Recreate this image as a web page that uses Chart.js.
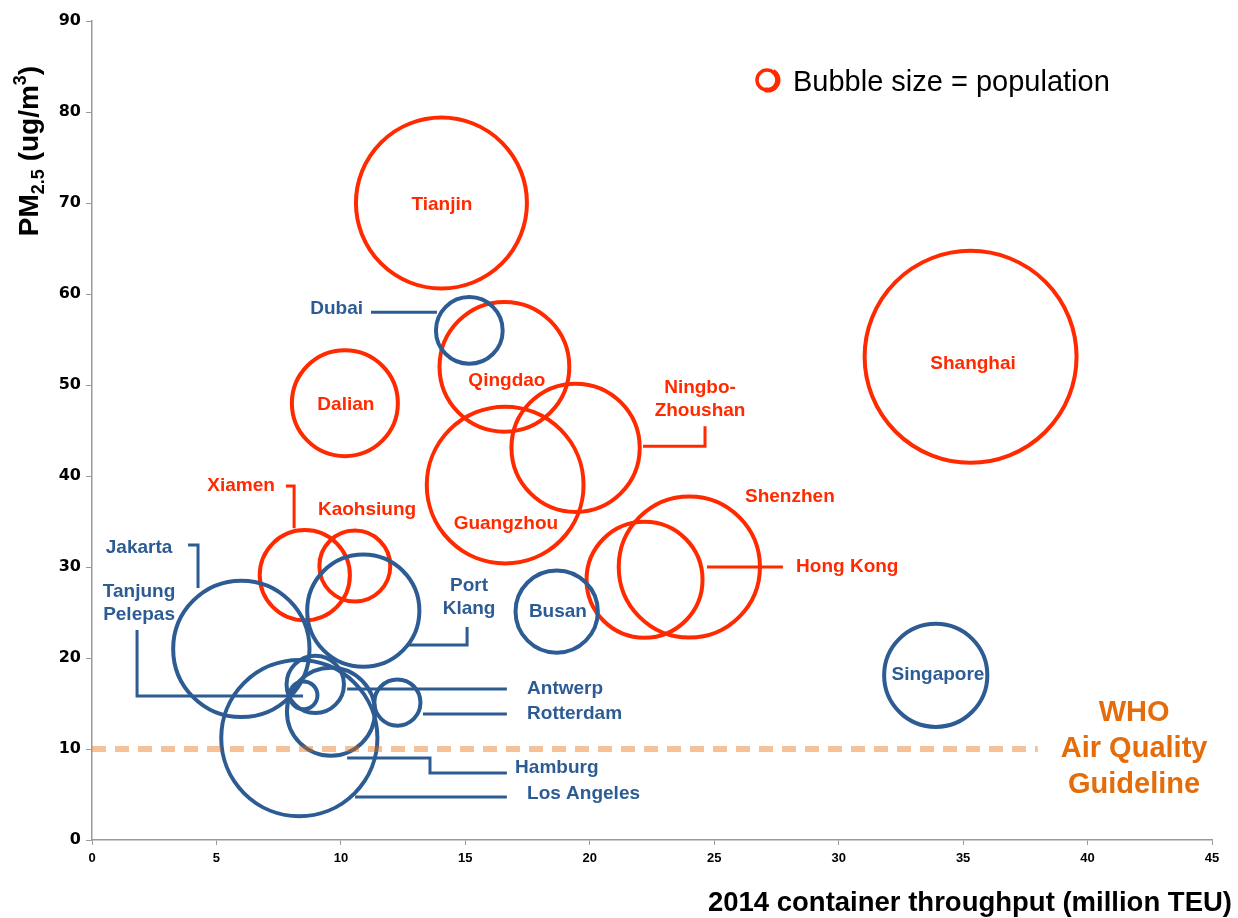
<!DOCTYPE html>
<html>
<head>
<meta charset="utf-8">
<title>PM2.5 vs container throughput</title>
<script src="https://cdn.jsdelivr.net/npm/chart.js@4.4.1/dist/chart.umd.min.js"></script>
<style>
  html, body { margin: 0; padding: 0; background: #fff; overflow: hidden; }
  .chart_box { position: relative; width: 1238px; height: 918px; }
</style>
</head>
<body>
<div class="chart_box"><canvas id="portsChart"></canvas></div>
<script>
// Datos: puertos de China (rojo)
const chinaCities = ['Tianjin', 'Shanghai', 'Qingdao', 'Dalian', 'Ningbo-Zhoushan', 'Guangzhou', 'Kaohsiung', 'Xiamen', 'Shenzhen', 'Hong Kong'];
const chinaTeu = [14.04, 35.3, 16.57, 10.16, 19.43, 16.6, 10.56, 8.55, 24.0, 22.2];
const chinaPm25 = [70.0, 53.1, 52.0, 48.0, 43.1, 39.0, 30.1, 29.1, 30.0, 28.6];
const chinaPopulation = [15.1, 23.2, 8.7, 5.8, 8.5, 12.7, 2.6, 4.2, 10.3, 6.95];

// Datos: otros puertos (azul)
const otherCities = ['Dubai', 'Busan', 'Singapore', 'Jakarta', 'Port Klang', 'Tanjung Pelepas', 'Antwerp', 'Rotterdam', 'Hamburg', 'Los Angeles'];
const otherTeu = [15.16, 18.67, 33.9, 6.0, 10.9, 8.5, 8.97, 12.27, 9.6, 8.33];
const otherPm25 = [56.0, 25.1, 18.1, 21.0, 25.2, 15.9, 17.1, 15.1, 14.1, 11.2];
const otherPopulation = [2.3, 3.5, 5.5, 9.6, 6.5, 0.4, 1.7, 1.1, 4.0, 12.6];

// Ejes y linea guia de la OMS
const xMax = 45;
const xStep = 5;
const yMax = 90;
const yStep = 10;
const whoGuideline = 10;
const whoLineEnd = 38;

document.addEventListener('DOMContentLoaded', function() {
    const RED = '#FF2A00';
    const BLUE = '#2C5C93';
    const ORANGE = '#E46C0A';
    const LABEL_FONT = 'bold 19px "Liberation Sans", Arial, sans-serif';
    const PX_PER_SQRT_MILLION = 22;

    // Puntos de burbuja, radio segun la poblacion
    function buildPoints(teu, pm, pop) {
        return teu.map((x, i) => ({ x: x, y: pm[i], r: PX_PER_SQRT_MILLION * Math.sqrt(pop[i]) }));
    }

    // Etiquetas de ciudades (coordenadas en unidades de los ejes)
    const cityLabels = [
        { text: ['Tianjin'], color: RED, at: [14.06, 69.8], align: 'center' },
        { text: ['Shanghai'], color: RED, at: [35.4, 52.3], align: 'center' },
        { text: ['Dalian'], color: RED, at: [10.2, 47.8], align: 'center' },
        { text: ['Qingdao'], color: RED, at: [16.67, 50.5], align: 'center' },
        { text: ['Guangzhou'], color: RED, at: [16.63, 34.7], align: 'center' },
        { text: ['Kaohsiung'], color: RED, at: [11.05, 36.25], align: 'center' },
        { text: ['Shenzhen'], color: RED, at: [28.04, 37.68], align: 'center' },
        { text: ['Xiamen'], color: RED, at: [5.99, 38.89], align: 'center',
          line: [[7.79, 38.89], [8.12, 38.89], [8.12, 34.27]] },
        { text: ['Ningbo-', 'Zhoushan'], color: RED, at: [24.43, 49.65], align: 'center',
          line: [[22.14, 43.28], [24.63, 43.28], [24.63, 45.48]] },
        { text: ['Hong Kong'], color: RED, at: [28.29, 29.99], align: 'left',
          line: [[24.71, 29.99], [27.76, 29.99]] },
        { text: ['Busan'], color: BLUE, at: [18.72, 25.05], align: 'center' },
        { text: ['Singapore'], color: BLUE, at: [33.99, 18.13], align: 'center' },
        { text: ['Dubai'], color: BLUE, at: [10.89, 58.33], align: 'right',
          line: [[11.21, 58.0], [13.86, 58.0]] },
        { text: ['Jakarta'], color: BLUE, at: [1.89, 32.08], align: 'center',
          line: [[3.86, 32.41], [4.26, 32.41], [4.26, 27.68]] },
        { text: ['Tanjung', 'Pelepas'], color: BLUE, at: [1.89, 27.24], align: 'center',
          line: [[1.81, 23.07], [1.81, 15.82], [8.48, 15.82]] },
        { text: ['Port', 'Klang'], color: BLUE, at: [15.15, 27.9], align: 'center',
          line: [[15.07, 23.4], [15.07, 21.42], [12.7, 21.42]] },
        { text: ['Antwerp'], color: BLUE, at: [17.48, 16.59], align: 'left',
          line: [[10.25, 16.59], [16.67, 16.59]] },
        { text: ['Rotterdam'], color: BLUE, at: [17.48, 13.84], align: 'left',
          line: [[13.3, 13.84], [16.67, 13.84]] },
        { text: ['Hamburg'], color: BLUE, at: [17.0, 7.91], align: 'left',
          line: [[10.25, 9.01], [13.58, 9.01], [13.58, 7.36], [16.67, 7.36]] },
        { text: ['Los Angeles'], color: BLUE, at: [17.48, 5.05], align: 'left',
          line: [[10.57, 4.72], [16.67, 4.72]] }
    ];

    // Plugin para etiquetas, lineas guia, leyenda y titulos de ejes
    const annotationsPlugin = {
        id: 'annotations',
        afterDatasetsDraw(chart) {
            const ctx = chart.ctx;
            const xs = chart.scales.x;
            const ys = chart.scales.y;
            ctx.save();
            cityLabels.forEach(lbl => {
                if (lbl.line) {
                    ctx.beginPath();
                    lbl.line.forEach((p, i) => {
                        const px = xs.getPixelForValue(p[0]);
                        const py = ys.getPixelForValue(p[1]);
                        if (i === 0) ctx.moveTo(px, py); else ctx.lineTo(px, py);
                    });
                    ctx.strokeStyle = lbl.color;
                    ctx.lineWidth = 3;
                    ctx.lineJoin = 'miter';
                    ctx.stroke();
                }
                ctx.fillStyle = lbl.color;
                ctx.font = LABEL_FONT;
                ctx.textAlign = lbl.align;
                ctx.textBaseline = 'middle';
                const x0 = xs.getPixelForValue(lbl.at[0]);
                const y0 = ys.getPixelForValue(lbl.at[1]);
                lbl.text.forEach((t, i) => ctx.fillText(t, x0, y0 + i * 23));
            });

            // Texto de la OMS
            ctx.fillStyle = ORANGE;
            ctx.font = 'bold 29px "Liberation Sans", Arial, sans-serif';
            ctx.textAlign = 'center';
            ctx.textBaseline = 'middle';
            const wx = xs.getPixelForValue(41.87);
            const wy = ys.getPixelForValue(13.95);
            ['WHO', 'Air Quality', 'Guideline'].forEach((t, i) => ctx.fillText(t, wx, wy + i * 36));
            ctx.restore();
        },
        afterDraw(chart) {
            const ctx = chart.ctx;
            const area = chart.chartArea;
            ctx.save();

            // Leyenda
            ctx.beginPath();
            ctx.arc(767, 80, 10, 0, Math.PI * 2);
            ctx.strokeStyle = RED;
            ctx.lineWidth = 3.5;
            ctx.stroke();
            ctx.beginPath();
            ctx.arc(768, 80, 10, -Math.PI / 3, Math.PI * 0.6);
            ctx.lineWidth = 5;
            ctx.stroke();
            ctx.fillStyle = '#000';
            ctx.font = '29px "Liberation Sans", Arial, sans-serif';
            ctx.textAlign = 'left';
            ctx.textBaseline = 'middle';
            ctx.fillText('Bubble size = population', 793, 83);

            // Titulo eje X
            ctx.font = 'bold 27.5px "Liberation Sans", Arial, sans-serif';
            ctx.textAlign = 'right';
            ctx.fillText('2014 container throughput (million TEU)', 1232, 903);

            // Titulo eje Y con subindice y superindice
            const big = 'bold 28px "Liberation Sans", Arial, sans-serif';
            const small = 'bold 18px "Liberation Sans", Arial, sans-serif';
            const parts = [
                { t: 'PM', f: big, dy: 0 },
                { t: '2.5', f: small, dy: 6 },
                { t: ' (ug/m', f: big, dy: 0 },
                { t: '3', f: small, dy: -12 },
                { t: ')', f: big, dy: 0 }
            ];
            let total = 0;
            parts.forEach(p => { ctx.font = p.f; p.w = ctx.measureText(p.t).width; total += p.w; });
            const centerY = (area.top + 130);
            ctx.translate(38, centerY);
            ctx.rotate(-Math.PI / 2);
            ctx.textBaseline = 'alphabetic';
            ctx.textAlign = 'left';
            let u = -total / 2;
            parts.forEach(p => {
                ctx.font = p.f;
                ctx.fillText(p.t, u, p.dy);
                u += p.w;
            });
            ctx.restore();
        }
    };

    const axisColor = '#9a9a9a';

    new Chart(document.getElementById('portsChart').getContext('2d'), {
        type: 'bubble',
        data: {
            datasets: [
                {
                    type: 'line',
                    label: 'WHO',
                    data: [{ x: 0, y: whoGuideline }, { x: whoLineEnd, y: whoGuideline }],
                    borderColor: 'rgba(228,108,10,0.42)',
                    borderWidth: 6,
                    borderDash: [14, 9],
                    borderCapStyle: 'butt',
                    pointRadius: 0,
                    fill: false
                },
                {
                    label: 'Other ports',
                    data: buildPoints(otherTeu, otherPm25, otherPopulation),
                    backgroundColor: 'rgba(0,0,0,0)',
                    borderColor: BLUE,
                    borderWidth: 4
                },
                {
                    label: 'Chinese ports',
                    data: buildPoints(chinaTeu, chinaPm25, chinaPopulation),
                    backgroundColor: 'rgba(0,0,0,0)',
                    borderColor: RED,
                    borderWidth: 4
                }
            ]
        },
        options: {
            responsive: true,
            maintainAspectRatio: false,
            animation: false,
            events: [],
            layout: { autoPadding: false, padding: { left: 0, right: 26, top: 21, bottom: 0 } },
            plugins: {
                legend: { display: false },
                tooltip: { enabled: false }
            },
            scales: {
                x: {
                    type: 'linear',
                    min: 0,
                    max: xMax,
                    ticks: {
                        stepSize: xStep,
                        color: '#000',
                        padding: 6,
                        font: { family: '"Liberation Sans", Arial, sans-serif', size: 13, weight: 'bold' }
                    },
                    grid: { drawOnChartArea: false, drawTicks: true, tickLength: 5, color: axisColor },
                    border: { display: true, color: axisColor, width: 1.5 },
                    afterFit: function(scale) { scale.height = 78; }
                },
                y: {
                    type: 'linear',
                    min: 0,
                    max: yMax,
                    ticks: {
                        stepSize: yStep,
                        color: '#000',
                        padding: 5,
                        font: { family: '"DejaVu Sans", sans-serif', size: 16, weight: 'bold' }
                    },
                    grid: { drawOnChartArea: false, drawTicks: true, tickLength: 6, color: axisColor },
                    border: { display: true, color: axisColor, width: 1.5 },
                    afterFit: function(scale) { scale.width = 92; }
                }
            }
        },
        plugins: [annotationsPlugin]
    });
});
</script>
</body>
</html>
